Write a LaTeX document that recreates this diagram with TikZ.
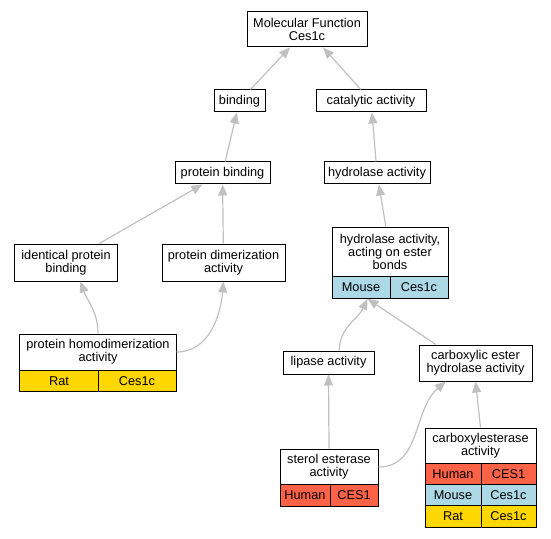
\documentclass[tikz,border=0pt]{standalone}
\usepackage{fontspec}
\setmainfont{Liberation Sans}
\usetikzlibrary{arrows.meta}
\definecolor{ratcol}{HTML}{FFD700}
\definecolor{mousecol}{HTML}{ADD8E6}
\definecolor{humancol}{HTML}{FF6347}
\definecolor{edgecol}{HTML}{C0C0C0}
\tikzset{
  term/.style={draw, line width=1bp, fill=white, align=center, inner sep=0pt,
    font=\fontsize{12.8}{13.4}\selectfont},
  cell/.style={term, minimum height=21.5bp},
  isa/.style={draw=edgecol, line width=1.2bp, -{Triangle[length=11bp,width=9bp]}},
}

\begin{document}
\begin{tikzpicture}[x=1bp, y=1bp]
      \useasboundingbox (0,0) rectangle (551,-539);
      % terms
      \node[term, minimum width=120bp, minimum height=35bp] (mf) at (307,-29.5) {Molecular Function\\Ces1c};
      \node[term, minimum width=51bp, minimum height=22bp] (bind) at (239.5,-101) {binding};
      \node[term, minimum width=110bp, minimum height=22bp] (cat) at (371,-101) {catalytic activity};
      \node[term, minimum width=95bp, minimum height=22bp] (pbind) at (222.5,-173) {protein binding};
      \node[term, minimum width=106bp, minimum height=22bp] (hydro) at (377,-173) {hydrolase activity};
      \node[term, minimum width=102bp, minimum height=37bp] (ident) at (66,-262.5) {identical protein\\binding};
      \node[term, minimum width=123bp, minimum height=37bp] (dimer) at (223.5,-262.5) {protein dimerization\\activity};
      \node[term, minimum width=116bp, minimum height=50bp] (ester) at (390,-252) {hydrolase activity,\\acting on ester\\bonds};
      \node[cell, fill=mousecol, minimum width=58bp] (emouse) at (361,-287.5) {Mouse};
      \node[cell, fill=mousecol, minimum width=58bp] (egene) at (419,-287.5) {Ces1c};
      \node[term, minimum width=156bp, minimum height=36bp] (homo) at (98,-352) {protein homodimerization\\activity};
      \node[cell, fill=ratcol, minimum width=78bp] (hrat) at (59,-381) {Rat};
      \node[cell, fill=ratcol, minimum width=78bp] (hgene) at (137,-381) {Ces1c};
      \node[term, minimum width=91bp, minimum height=23bp] (lipase) at (328.5,-362.5) {lipase activity};
      \node[term, minimum width=113bp, minimum height=36bp] (carbx) at (475.5,-363) {carboxylic ester\\hydrolase activity};
      \node[term, minimum width=98bp, minimum height=36bp] (sterol) at (329,-467) {sterol esterase\\activity};
      \node[cell, fill=humancol, minimum width=50bp] (shuman) at (305,-495.5) {Human};
      \node[cell, fill=humancol, minimum width=48bp] (sgene) at (354,-495.5) {CES1};
      \node[term, minimum width=111bp, minimum height=35bp] (carbe) at (480.5,-445.5) {carboxylesterase\\activity};
      \foreach \sp/\gene/\col/\y in {Human/CES1/humancol/474, Mouse/Ces1c/mousecol/495.5, Rat/Ces1c/ratcol/516.5} {
        \node[cell, fill=\col, minimum width=56bp] (cs\sp) at (453,-\y) {\sp};
        \node[cell, fill=\col, minimum width=55bp] (cg\sp) at (508.5,-\y) {\gene};
      }
      % is_a links
      \draw[isa] (bind) -- (mf);
      \draw[isa] (cat) -- (mf);
      \draw[isa] (pbind) -- (bind);
      \draw[isa] (hydro) -- (cat);
      \draw[isa] (ident) -- (pbind);
      \draw[isa] (dimer) -- (pbind);
      \draw[isa] (ester) -- (hydro);
      \draw[isa] (homo.north) to[out=90, in=-70] (ident.-53);
      \draw[isa] (homo.east) to[out=0, in=-95] (dimer.south);
      \draw[isa] (lipase.48) to[out=90, in=-115] (emouse.-60);
      \draw[isa] (carbx.155) -- (emouse.-60);
      \draw[isa] (sterol.north) -- (lipase.south);
      \draw[isa] (sterol.east) to[out=0, in=-140] (carbx.-148);
      \draw[isa] (carbe.north) -- (carbx.south);
\end{tikzpicture}
\end{document}
